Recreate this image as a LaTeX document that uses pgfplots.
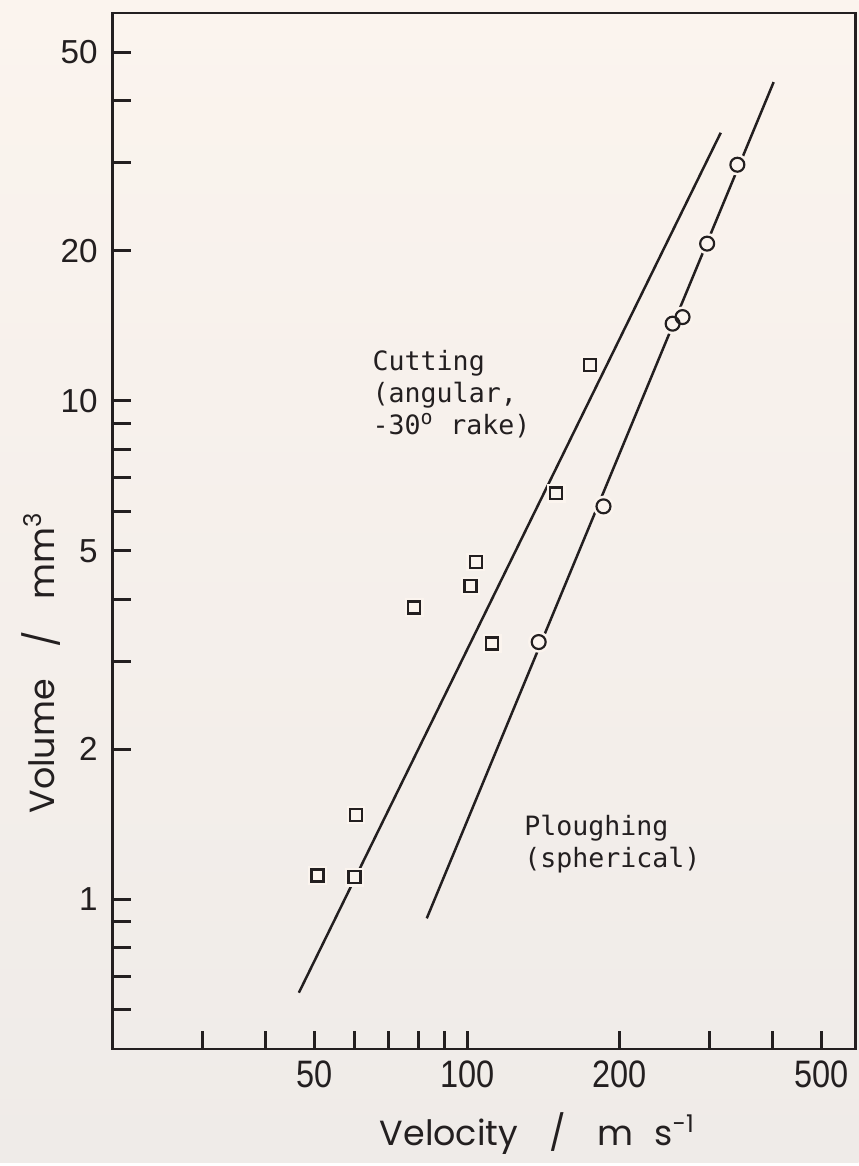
\documentclass[border=0pt]{standalone}
\usepackage{fontspec}
\setmainfont{Liberation Sans}
\newfontfamily\labelfont{Poppins}
\newfontfamily\monofont{DejaVu Sans Mono}
\usepackage{pgfplots}
\pgfplotsset{compat=1.18}
\usetikzlibrary{backgrounds}
\definecolor{ink}{HTML}{231F20}
\definecolor{papertop}{HTML}{FBF4EE}
\definecolor{paperbot}{HTML}{EFEBE8}

\begin{document}
\begin{tikzpicture}
\begin{axis}[
  scale only axis, width=223.5pt, height=311.7pt,
  xmode=log, ymode=log, xmin=20, xmax=583, ymin=0.5, ymax=60,
  axis line style={ink, line width=0.8pt},
  tick style={ink, line width=0.9pt},
  tick align=inside, xtick pos=left, ytick pos=left,
  major tick length=5.4pt, minor tick length=5.4pt,
  xtick={50,100,200,500}, xticklabels={50,100,200,500},
  minor xtick={30,40,60,70,80,90,300,400},
  ytick={1,2,5,10,20,50}, yticklabels={1,2,5,10,20,50},
  minor ytick={0.6,0.7,0.8,0.9,3,4,6,7,8,9,30,40},
  xticklabel style={font=\fontsize{11.5}{13}\selectfont, xscale=0.85, text=ink},
  yticklabel style={font=\fontsize{10}{12}\selectfont, text=ink, xshift=-1pt},
  xlabel={Velocity\hspace{0.9em}/\hspace{0.9em}m\hspace{0.6em}s\textsuperscript{-1}},
  xlabel style={font=\labelfont\fontsize{10.5}{12}\selectfont, text=ink,
    at={(rel axis cs:0.572,-0.0934)}, anchor=base},
  ylabel={Volume\hspace{0.9em}/\hspace{0.9em}mm\textsuperscript{3}},
  ylabel style={font=\labelfont\fontsize{10.5}{12}\selectfont, text=ink,
    at={(rel axis cs:-0.0779,0.373)}, anchor=base},
  clip=false,
]
% fitted lines
\addplot[ink, line width=0.75pt] coordinates {(46.56,0.649) (316,34.5)};
\addplot[ink, line width=0.75pt] coordinates {(83.2,0.915) (401.8,43.6)};
% halos (gaps in lines around the points)
\addplot[only marks, mark=square*, mark size=1.8pt,
  mark options={draw=papertop, fill=papertop, line width=2pt}] coordinates {
  (50.7,1.115) (59.9,1.106) (60.3,1.475) (78.6,3.85) (101.5,4.25)
  (103.9,4.75) (112,3.26) (149.8,6.52) (174.8,11.8)};
\addplot[only marks, mark=*, mark size=2.1pt,
  mark options={draw=papertop, fill=papertop, line width=2.2pt}] coordinates {
  (138.3,3.28) (185.6,6.14) (254,14.28) (265.7,14.72) (297.1,20.67) (340.8,29.76)};
% cutting (angular) - squares
\addplot[only marks, mark=square, mark size=1.8pt,
  mark options={ink, line width=0.7pt}] coordinates {
  (50.7,1.115) (59.9,1.106) (60.3,1.475) (78.6,3.85) (101.5,4.25)
  (103.9,4.75) (112,3.26) (149.8,6.52) (174.8,11.8)};
% ploughing (spherical) - circles
\addplot[only marks, mark=o, mark size=2.1pt,
  mark options={ink, line width=0.65pt}] coordinates {
  (138.3,3.28) (185.6,6.14) (254,14.28) (265.7,14.72) (297.1,20.67) (340.8,29.76)};

\node[anchor=north west, inner sep=0pt, align=left, text=ink,
  font=\monofont\fontsize{8}{9.6}\selectfont] at (axis cs:64.9,12.67)
  {Cutting\\(angular,\\-30\textsuperscript{o} rake)};
\node[anchor=north west, inner sep=0pt, align=left, text=ink,
  font=\monofont\fontsize{8}{9.6}\selectfont] at (axis cs:129.2,1.478)
  {Ploughing\\(spherical)};
\end{axis}
\begin{scope}[on background layer]
\shade[top color=papertop, bottom color=paperbot]
  ([xshift=-33.9pt,yshift=-34.2pt]current axis.south west) rectangle
  ([xshift=0.9pt,yshift=3.9pt]current axis.north east);
\end{scope}
\end{tikzpicture}
\end{document}
